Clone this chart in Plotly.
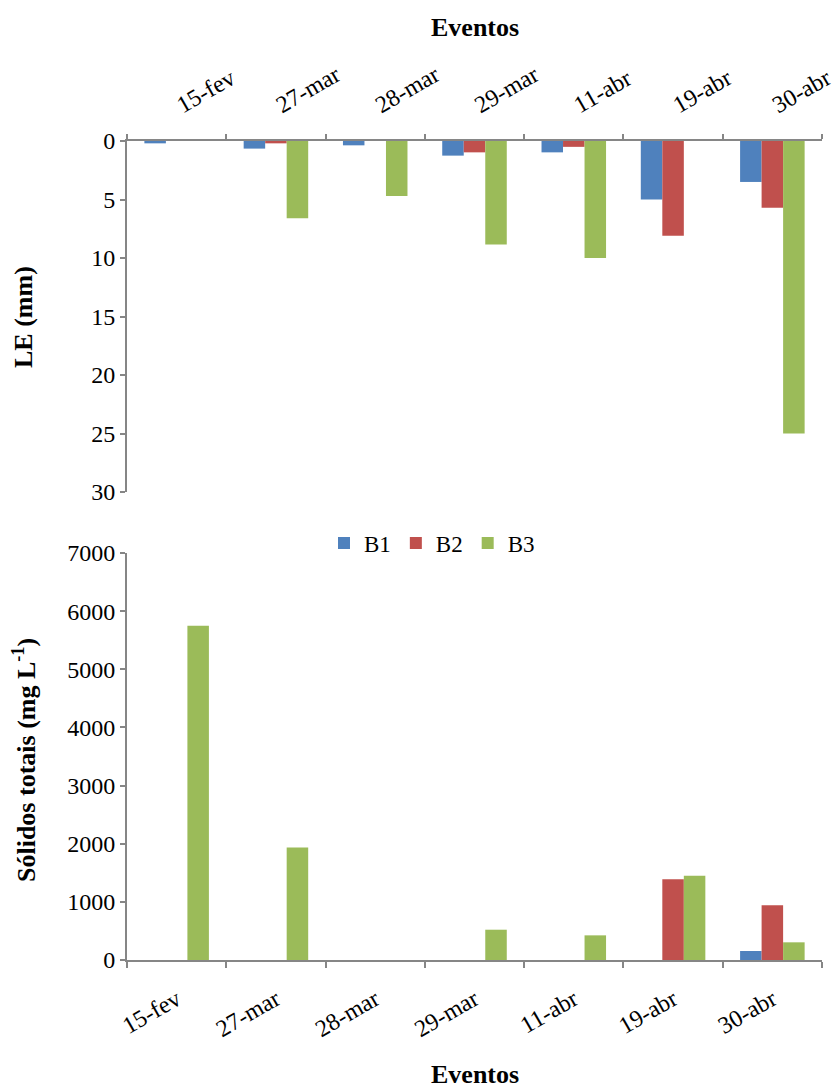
import plotly.graph_objects as go

eventos = ["15-fev", "27-mar", "28-mar", "29-mar", "11-abr", "19-abr", "30-abr"]

# LE (mm)
le_b1 = [0.2, 0.65, 0.37, 1.25, 0.97, 5.0, 3.5]
le_b2 = [0.0, 0.2, 0.0, 0.97, 0.5, 8.1, 5.7]
le_b3 = [0.0, 6.6, 4.7, 8.85, 10.0, 0.0, 25.0]

# Sólidos totais (mg L-1)
st_b1 = [0, 0, 0, 0, 0, 0, 155]
st_b2 = [0, 0, 0, 0, 0, 1390, 940]
st_b3 = [5750, 1935, 0, 521, 424, 1450, 304]

series_names = ["B1", "B2", "B3"]
colors = ["#4F81BD", "#C0504D", "#9BBB59"]

W, H = 834, 1090
FONT = "Liberation Serif, Times New Roman, serif"
AX = "#868686"
ML, MR, MT, MB = 127, 12, 30, 30
PW, PH = W - ML - MR, H - MT - MB

def py(px):
    return (H - MB - px) / PH

def pxf(px):
    return (px - ML) / PW

fig = go.Figure()

for name, vals, c in zip(series_names, [le_b1, le_b2, le_b3], colors):
    fig.add_trace(go.Bar(x=eventos, y=vals, name=name, marker=dict(color=c, line=dict(width=0)),
                         xaxis="x", yaxis="y", showlegend=False))
for name, vals, c in zip(series_names, [st_b1, st_b2, st_b3], colors):
    fig.add_trace(go.Bar(x=eventos, y=vals, name=name, marker=dict(color=c, line=dict(width=0)),
                         xaxis="x2", yaxis="y2", showlegend=True))

TF = dict(size=24)
fig.update_layout(
    width=W, height=H,
    margin=dict(l=ML, r=MR, t=MT, b=MB),
    paper_bgcolor="white", plot_bgcolor="white",
    font=dict(family=FONT, size=24, color="black"),
    barmode="group", bargap=0.35, bargroupgap=0,
    xaxis=dict(domain=[0, 1], anchor="y", side="top", type="category",
               showline=True, linecolor=AX, linewidth=2,
               ticks="outside", tickson="boundaries", ticklen=5, tickcolor=AX, tickwidth=1.5,
               tickangle=-30, tickfont=TF, ticklabelstandoff=14,
               showgrid=False, zeroline=False, automargin=False),
    yaxis=dict(domain=[py(492), py(141)], anchor="x", range=[30, 0], dtick=5,
               showline=True, linecolor=AX, linewidth=2,
               ticks="outside", ticklen=5, tickcolor=AX, tickwidth=1.5,
               tickfont=TF, showgrid=False, zeroline=False, automargin=False),
    xaxis2=dict(domain=[0, 1], anchor="y2", side="bottom", type="category",
                showline=True, linecolor=AX, linewidth=2,
                ticks="outside", tickson="boundaries", ticklen=6, tickcolor=AX, tickwidth=1.5,
                tickangle=-30, tickfont=TF, ticklabelstandoff=14,
                showgrid=False, zeroline=False, automargin=False),
    yaxis2=dict(domain=[py(960), py(553)], anchor="x2", range=[0, 7000], dtick=1000,
                showline=True, linecolor=AX, linewidth=2,
                ticks="outside", ticklen=5, tickcolor=AX, tickwidth=1.5,
                tickfont=TF, showgrid=False, zeroline=False, automargin=False),
    legend=dict(orientation="h", x=pxf(432), xanchor="center",
                y=py(543), yanchor="middle", font=dict(size=23),
                itemwidth=30, tracegroupgap=0, bgcolor="rgba(0,0,0,0)"),
)

def ann(text, x, y, angle=0, size=26):
    fig.add_annotation(text=text, xref="paper", yref="paper",
                       x=pxf(x), y=py(y), xanchor="center", yanchor="middle",
                       showarrow=False, textangle=angle,
                       font=dict(family=FONT, size=size, color="black"))

ann("<b>Eventos</b>", 475, 27)
ann("<b>Eventos</b>", 475, 1074)
ann("<b>LE (mm)</b>", 24, 317, -90)
ann("<b>Sólidos totais (mg L<sup>-1</sup>)</b>", 24, 760, -90)

fig.write_html("out.html")
